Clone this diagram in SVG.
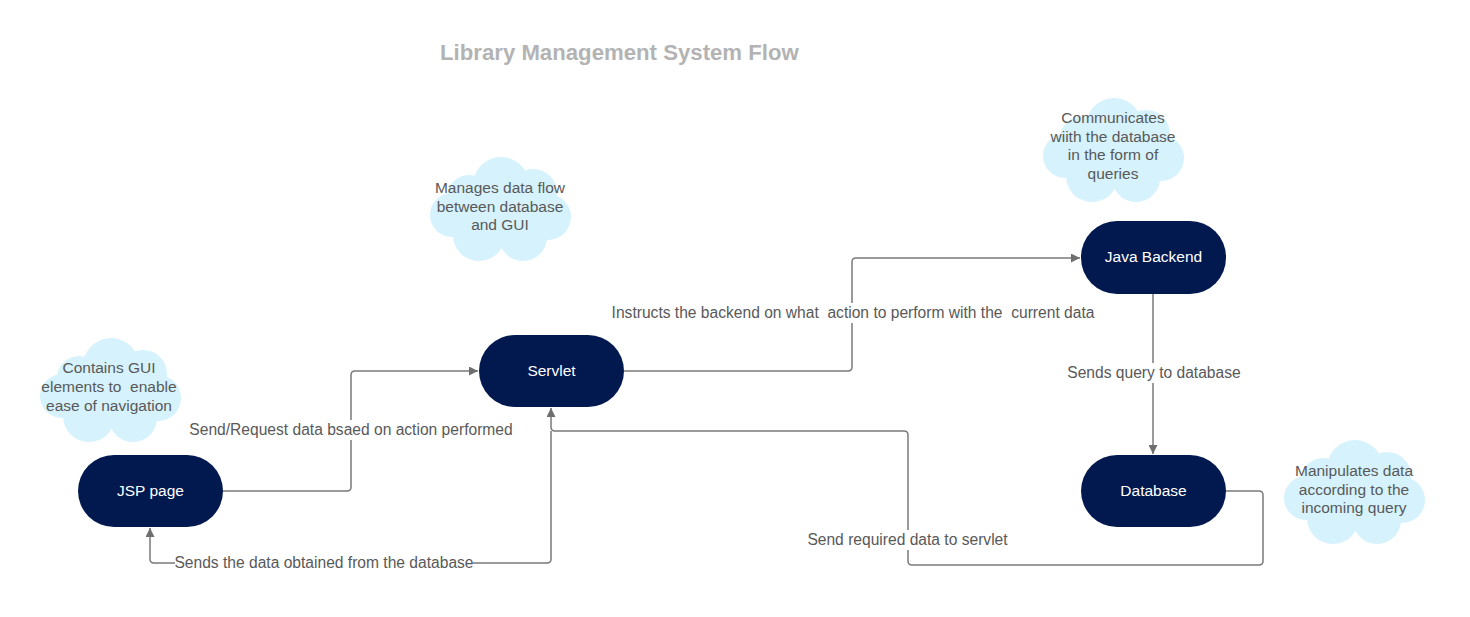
<svg xmlns="http://www.w3.org/2000/svg" width="1470" height="617" viewBox="0 0 1470 617">
<style>
.node{fill:#02194f;}
.ntxt{font-family:"Liberation Sans",Arial,sans-serif;font-size:15.5px;fill:#ffffff;text-anchor:middle;}
.ctxt{font-family:"Liberation Sans",Arial,sans-serif;font-size:15.5px;fill:#595959;text-anchor:middle;}
.ltxt{font-family:"Liberation Sans",Arial,sans-serif;font-size:15.6px;fill:#595959;text-anchor:middle;white-space:pre;}
.edge{fill:none;stroke:#7a7a7a;stroke-width:1.5;stroke-linejoin:round;}
.lbg{fill:#ffffff;}
.title{font-family:"Liberation Sans",Arial,sans-serif;font-size:22.2px;font-weight:bold;fill:#b3b3b3;}
</style>
<defs>
<marker id="arr" viewBox="0 0 10 10" refX="10" refY="5" markerWidth="11" markerHeight="9" markerUnits="userSpaceOnUse" orient="auto">
<path d="M0,0 L10,5 L0,10 z" fill="#6e6e6e"/>
</marker>
<g id="cloud" fill="#d5f2fd">
<ellipse cx="72" cy="55" rx="52" ry="36"/>
<circle cx="74" cy="30" r="28"/>
<circle cx="42" cy="42" r="22"/>
<circle cx="106" cy="38" r="24"/>
<circle cx="25" cy="60" r="22"/>
<circle cx="121" cy="62" r="23"/>
<circle cx="52" cy="80" r="26"/>
<circle cx="96" cy="82" r="24"/>
</g>
</defs>
<rect width="1470" height="617" fill="#ffffff"/>
<text class="title" x="440" y="60">Library Management System Flow</text>

<g id="connectors">
<path class="edge" d="M222,491 H347 Q351,491 351,487 V375 Q351,371 355,371 H478" marker-end="url(#arr)"/>
<path class="edge" d="M624,371 H848 Q852,371 852,367 V262 Q852,258 856,258 H1080" marker-end="url(#arr)"/>
<path class="edge" d="M1153,294 V454" marker-end="url(#arr)"/>
<path class="edge" d="M1226,491 H1259 Q1263,491 1263,495 V561 Q1263,565 1259,565 H912 Q908,565 908,561 V435 Q908,431 904,431 H555 Q551,431 551,427 V408" marker-end="url(#arr)"/>
<path class="edge" d="M551,431 V559 Q551,563 547,563 H154 Q150,563 150,559 V528" marker-end="url(#arr)"/>
<rect class="lbg" x="188" y="420" width="326" height="20"/>
<text class="ltxt" x="351" y="435">Send/Request data bsaed on action performed</text>
<rect class="lbg" x="610" y="303" width="486" height="20"/>
<text class="ltxt" x="853" y="318">Instructs the backend on what  action to perform with the  current data</text>
<rect class="lbg" x="1066" y="363" width="176" height="20"/>
<text class="ltxt" x="1154" y="378">Sends query to database</text>
<rect class="lbg" x="806" y="530" width="203" height="20"/>
<text class="ltxt" x="907.5" y="545">Send required data to servlet</text>
<rect class="lbg" x="175" y="556" width="298" height="15"/>
<text class="ltxt" x="324" y="568">Sends the data obtained from the database</text>
</g>

<g id="node-jsp">
<rect class="node" x="78" y="455" width="145" height="72" rx="36"/>
<text class="ntxt" x="150.5" y="496">JSP page</text>
</g>
<g id="node-servlet">
<rect class="node" x="479" y="335" width="145" height="72" rx="36"/>
<text class="ntxt" x="551.5" y="376">Servlet</text>
</g>
<g id="node-java">
<rect class="node" x="1081" y="221" width="145" height="73" rx="36"/>
<text class="ntxt" x="1153.5" y="262">Java Backend</text>
</g>
<g id="node-database">
<rect class="node" x="1081" y="455" width="145" height="72" rx="36"/>
<text class="ntxt" x="1153.5" y="496">Database</text>
</g>

<g id="cloud-jsp">
<use href="#cloud" transform="translate(37,336)"/>
<text class="ctxt" x="109" y="373">Contains GUI</text>
<text class="ctxt" x="109" y="392" style="white-space:pre">elements to  enable</text>
<text class="ctxt" x="109" y="411">ease of navigation</text>
</g>
<g id="cloud-servlet">
<use href="#cloud" transform="translate(427,155)"/>
<text class="ctxt" x="500" y="193">Manages data flow</text>
<text class="ctxt" x="500" y="212">between database</text>
<text class="ctxt" x="500" y="230">and GUI</text>
</g>
<g id="cloud-java">
<use href="#cloud" transform="translate(1040,96)"/>
<text class="ctxt" x="1113" y="123">Communicates</text>
<text class="ctxt" x="1113" y="142">wiith the database</text>
<text class="ctxt" x="1113" y="160">in the form of</text>
<text class="ctxt" x="1113" y="179">queries</text>
</g>
<g id="cloud-database">
<use href="#cloud" transform="translate(1281,438)"/>
<text class="ctxt" x="1354" y="476">Manipulates data</text>
<text class="ctxt" x="1354" y="495">according to the</text>
<text class="ctxt" x="1354" y="513">incoming query</text>
</g>
</svg>
